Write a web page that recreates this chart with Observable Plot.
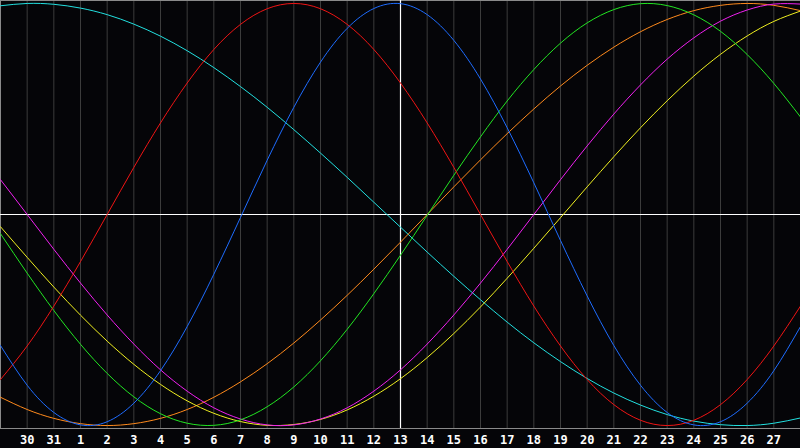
<!DOCTYPE html>
<html>
<head>
<meta charset="utf-8">
<script src="https://cdn.jsdelivr.net/npm/d3@7"></script>
<script src="https://cdn.jsdelivr.net/npm/@observablehq/plot@0.6"></script>
<style>
  html, body { margin: 0; padding: 0; background: #050508; }
  #chart { width: 800px; height: 448px; overflow: hidden; }
</style>
</head>
<body>
<div id="chart"></div>
<script>
// day offsets relative to "today" (day 13 = offset 0)
const offsets = d3.range(-15, 16);
const tickOffsets = d3.range(-14, 15);
const dayLabels = ["30","31","1","2","3","4","5","6","7","8","9","10","11","12","13","14","15","16","17","18","19","20","21","22","23","24","25","26","27"];

// values in percent at each day
const physical     = [-62.1,-80.9,-93.8,-99.7,-98.2,-89.4,-74.0,-53.1,-28.3,-1.4,25.7,50.8,72.2,88.2,97.6,99.9,94.7,82.5,64.2,41.1,15.0,-12.3,-38.6,-62.1,-80.9,-93.8,-99.7,-98.2,-89.4,-74.0,-53.1];
const emotional    = [-78.2,-62.3,-43.4,-22.3,0,22.3,43.4,62.3,78.2,90.1,97.5,100,97.5,90.1,78.2,62.3,43.4,22.3,0,-22.3,-43.4,-62.3,-78.2,-90.1,-97.5,-100,-97.5,-90.1,-78.2,-62.3,-43.4];
const intellectual = [-9.1,-27.8,-45.5,-61.5,-75.3,-86.4,-94.4,-98.9,-99.9,-97.3,-91.1,-81.7,-69.3,-54.4,-37.5,-19.3,-0.4,18.6,36.8,53.8,68.7,81.2,90.8,97.1,99.9,99.0,94.6,86.8,75.8,62.1,46.2];
const intuitive    = [16.5,0,-16.5,-32.5,-47.6,-61.4,-73.6,-83.7,-91.6,-96.9,-99.7,-99.7,-96.9,-91.6,-83.7,-73.6,-61.4,-47.6,-32.5,-16.5,0,16.5,32.5,47.6,61.4,73.6,83.7,91.6,96.9,99.7,99.7];
const aesthetic    = [-5.8,-20.3,-34.4,-47.7,-60.0,-71.0,-80.5,-88.3,-94.2,-98.1,-99.9,-99.5,-97.1,-92.6,-86.1,-77.8,-67.8,-56.4,-43.8,-30.2,-16.0,-1.5,13.1,27.4,41.1,53.9,65.6,75.9,84.6,91.5,96.4];
const awareness    = [-86.6,-92.4,-96.6,-99.1,-100,-99.1,-96.6,-92.4,-86.6,-79.3,-70.7,-60.9,-50.0,-38.3,-25.9,-13.1,0,13.1,25.9,38.3,50.0,60.9,70.7,79.3,86.6,92.4,96.6,99.1,100,99.1,96.6];
const spiritual    = [98.9,100.0,99.6,97.8,94.7,90.2,84.5,77.6,69.6,60.6,50.8,40.2,29.1,17.6,5.8,-6.0,-17.8,-29.3,-40.4,-51.0,-60.8,-69.7,-77.7,-84.6,-90.3,-94.8,-97.9,-99.6,-100.0,-98.9,-96.4];

const seriesNames  = ["spiritual","awareness","aesthetic","intuitive","intellectual","emotional","physical"];
const seriesValues = [spiritual, awareness, aesthetic, intuitive, intellectual, emotional, physical];
const seriesColors = ["#22e0e0","#ff8a1c","#f0f020","#f020f0","#22e622","#f01414","#1e6cff"];

const rows = [];
seriesNames.forEach((name, s) => {
  offsets.forEach((t, i) => rows.push({series: name, t, v: seriesValues[s][i]}));
});

const labelOf = new Map(tickOffsets.map((t, i) => [t, dayLabels[i]]));

const chart = Plot.plot({
  width: 800,
  height: 448,
  marginTop: 0,
  marginBottom: 20,
  marginLeft: 0,
  marginRight: 0,
  style: { background: "#050508", overflow: "hidden" },
  x: { domain: [-15, 15], axis: null },
  y: { domain: [-101.4, 101.4], axis: null },
  color: { domain: seriesNames, range: seriesColors },
  marks: [
    Plot.ruleX(tickOffsets, { x: d => d, stroke: "#3c3c3c", strokeWidth: 1 }),
    Plot.frame({ stroke: "#8a8a8a", strokeWidth: 1 }),
    Plot.ruleY([0], { stroke: "#ffffff", strokeWidth: 1.2 }),
    Plot.ruleX([0], { stroke: "#ffffff", strokeWidth: 1.2 }),
    Plot.line(rows, { x: "t", y: "v", z: "series", stroke: "series", strokeWidth: 1, curve: "natural" }),
    Plot.axisX({
      ticks: tickOffsets,
      tickFormat: t => labelOf.get(t),
      tickSize: 0,
      tickPadding: 7,
      fill: "#ffffff",
      fontSize: 12,
      fontWeight: "bold",
      fontFamily: "DejaVu Sans Mono",
      label: null
    })
  ]
});
document.getElementById("chart").appendChild(chart);
</script>
</body>
</html>
